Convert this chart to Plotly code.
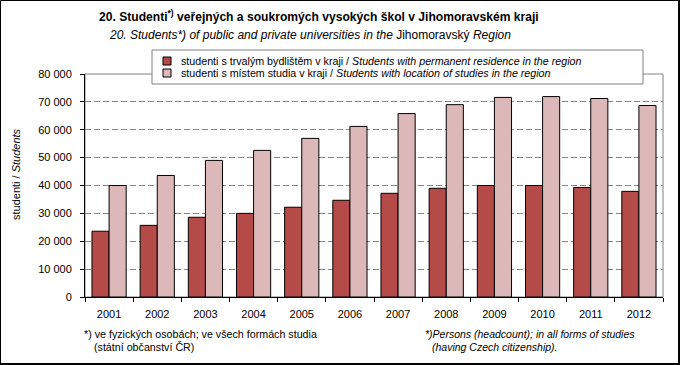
import plotly.graph_objects as go

years = ["2001", "2002", "2003", "2004", "2005", "2006", "2007", "2008", "2009", "2010", "2011", "2012"]
permanent = [23600, 25700, 28600, 30000, 32200, 34700, 37200, 39000, 40000, 40000, 39300, 37900]
location = [40000, 43600, 49000, 52600, 56900, 61200, 65800, 69000, 71600, 71900, 71200, 68700]
series_names = [
    "studenti s trvalým bydlištěm v kraji / <i>Students with permanent residence in the region</i>",
    "studenti s místem studia v kraji / <i>Students with location of studies in the region</i>",
]
colors = ["#B44B49", "#DDB8B8"]

W, H = 680, 365
L, R, T, B = 85, 17, 74, 68
PW, PH = W - L - R, H - T - B


def px(x):
    return (x - L) / PW


def py(y):
    return (H - B - y) / PH


FONT = "Liberation Sans, Arial, sans-serif"

fig = go.Figure()
for name, vals, c in zip(series_names, [permanent, location], colors):
    fig.add_trace(go.Bar(x=years, y=vals, name=name, marker=dict(color=c, line=dict(color="black", width=1)),
                         showlegend=False))

shapes = []
annotations = []

# plot area border (grey)
shapes.append(dict(type="rect", xref="paper", yref="paper", x0=0, y0=0, x1=1, y1=1,
                   line=dict(color="#808080", width=1), layer="between"))
# legend box
shapes.append(dict(type="rect", xref="paper", yref="paper", x0=px(152), x1=px(643), y0=py(50), y1=py(84),
                   line=dict(color="#808080", width=1), fillcolor="white", layer="above"))
for i, (name, c) in enumerate(zip(series_names, colors)):
    yc = 61 + 12 * i
    shapes.append(dict(type="rect", xref="paper", yref="paper", x0=px(163), x1=px(171), y0=py(yc - 4), y1=py(yc + 4),
                       line=dict(color="black", width=1), fillcolor=c, layer="above"))
    annotations.append(dict(xref="paper", yref="paper", x=px(179), y=py(yc), xanchor="left", yanchor="middle",
                            text=name, showarrow=False, font=dict(size=10.7, color="black", family=FONT)))

# outer border
shapes.append(dict(type="rect", xref="paper", yref="paper", x0=px(0.5), x1=px(678.5), y0=py(0.5), y1=py(363.5),
                   line=dict(color="black", width=1), layer="above"))
shapes.append(dict(type="line", xref="paper", yref="paper", x0=px(679), x1=px(679), y0=py(0), y1=py(365),
                   line=dict(color="black", width=2), layer="above"))
shapes.append(dict(type="line", xref="paper", yref="paper", x0=px(0), x1=px(680), y0=py(364), y1=py(364),
                   line=dict(color="black", width=2), layer="above"))

# titles
annotations.append(dict(xref="paper", yref="paper", x=px(97), y=py(16), xanchor="left", yanchor="middle",
                        text="<b>20. Studenti<sup>*)</sup> veřejných a soukromých vysokých škol v Jihomoravském kraji</b>",
                        showarrow=False, font=dict(size=12.1, color="black", family=FONT)))
annotations.append(dict(xref="paper", yref="paper", x=px(107), y=py(35), xanchor="left", yanchor="middle",
                        text="<i>20. Students*) of public and private universities in the</i> Jihomoravský <i>Region</i>",
                        showarrow=False, font=dict(size=12, color="black", family=FONT)))
# y-axis title
annotations.append(dict(xref="paper", yref="paper", x=px(16), y=py(174), xanchor="center", yanchor="middle",
                        text="studenti / <i>Students</i>", textangle=-90,
                        showarrow=False, font=dict(size=11, color="black", family=FONT)))
# footnotes
annotations.append(dict(xref="paper", yref="paper", x=px(82), y=py(334), xanchor="left", yanchor="middle",
                        text="*) ve fyzických osobách; ve všech formách studia", showarrow=False,
                        font=dict(size=10.7, color="black", family=FONT)))
annotations.append(dict(xref="paper", yref="paper", x=px(92), y=py(347), xanchor="left", yanchor="middle",
                        text="(státní občanství ČR)", showarrow=False,
                        font=dict(size=10.7, color="black", family=FONT)))
annotations.append(dict(xref="paper", yref="paper", x=px(423), y=py(334), xanchor="left", yanchor="middle",
                        text="<i>*)Persons (headcount); in all forms of studies</i>", showarrow=False,
                        font=dict(size=10.5, color="black", family=FONT)))
annotations.append(dict(xref="paper", yref="paper", x=px(430), y=py(347), xanchor="left", yanchor="middle",
                        text="<i>(having Czech citizenship).</i>", showarrow=False,
                        font=dict(size=10.5, color="black", family=FONT)))

fig.update_layout(
    width=W, height=H,
    margin=dict(l=L, r=R, t=T, b=B, pad=0),
    paper_bgcolor="white", plot_bgcolor="white",
    barmode="group", bargap=0.29, bargroupgap=0,
    separators=", ",
    font=dict(family=FONT, size=11, color="black"),
    shapes=shapes, annotations=annotations,
    xaxis=dict(type="category", showline=True, linecolor="black", linewidth=1,
               ticks="outside", tickson="boundaries", ticklen=4, tickcolor="black",
               showgrid=False, tickfont=dict(size=11, color="black"), ticklabelstandoff=7, fixedrange=True),
    yaxis=dict(range=[0, 80000], dtick=10000, tickformat=",d", showline=True, linecolor="black", linewidth=1,
               ticks="outside", ticklen=4, tickcolor="black", showgrid=True, gridcolor="#868686",
               griddash="6px,3px", gridwidth=1, zeroline=False, tickfont=dict(size=11, color="black"),
               ticklabelstandoff=6, fixedrange=True),
)

fig.write_html("out.html", config={"displayModeBar": False},
               post_script="document.body.style.margin='0';document.body.style.overflow='hidden';")
